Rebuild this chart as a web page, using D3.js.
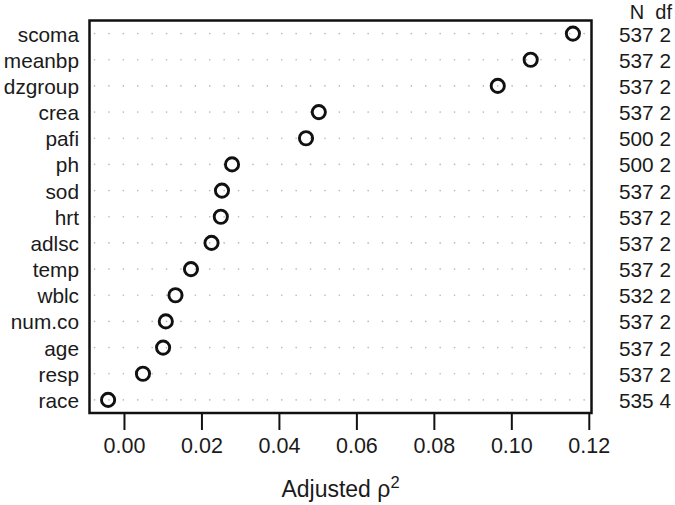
<!DOCTYPE html>
<html>
<head>
<meta charset="UTF-8" />
<title>Adjusted rho^2 dot chart</title>
<script src="https://d3js.org/d3.v7.min.js"></script>
<style>
body { margin: 0; background: #fff; }
svg text { font-family: "Liberation Sans", Arial, sans-serif; fill: #1a1a1a; }
</style>
</head>
<body>
<div id="plot"></div>
<script>
// predictors, top to bottom
var labels = ["scoma", "meanbp", "dzgroup", "crea", "pafi", "ph", "sod", "hrt",
              "adlsc", "temp", "wblc", "num.co", "age", "resp", "race"];
// adjusted rho^2
var rho2 = [0.1159, 0.1050, 0.0965, 0.0503, 0.0470, 0.0279, 0.0253, 0.0250,
            0.0226, 0.0173, 0.0133, 0.0108, 0.0101, 0.0049, -0.0041];
var nObs = [537, 537, 537, 537, 500, 500, 537, 537, 537, 537, 532, 537, 537, 537, 535];
var dfs  = [2, 2, 2, 2, 2, 2, 2, 2, 2, 2, 2, 2, 2, 2, 4];
var xTicks = [0.00, 0.02, 0.04, 0.06, 0.08, 0.10, 0.12];

var W = 675, H = 505;
var box = {left: 89.5, right: 591.5, top: 20.5, bottom: 413};
var fs = "20.8px";

var svg = d3.select("#plot").append("svg")
  .attr("width", W)
  .attr("height", H);

// R style xlim: data range plus 4% each side
var lo = d3.min(rho2), hi = d3.max(rho2), pad = (hi - lo) * 0.04;
var x = d3.scaleLinear().domain([lo - pad, hi + pad]).range([box.left, box.right]);
var y = d3.scalePoint().domain(labels).range([box.top, box.bottom]).padding(0.5);

// dotted guide lines
svg.append("g").selectAll("line")
  .data(labels).enter()
  .append("line")
  .attr("x1", box.left + 5)
  .attr("x2", box.right)
  .attr("y1", function(d) { return y(d); })
  .attr("y2", function(d) { return y(d); })
  .attr("stroke", "#b8b8b8")
  .attr("stroke-width", 1.6)
  .attr("stroke-linecap", "round")
  .attr("stroke-dasharray", "0.1 14.3");

// points
svg.append("g").selectAll("circle")
  .data(labels).enter()
  .append("circle")
  .attr("cx", function(d, i) { return x(rho2[i]); })
  .attr("cy", function(d) { return y(d); })
  .attr("r", 6.6)
  .attr("fill", "none")
  .attr("stroke", "#111")
  .attr("stroke-width", 2.9);

// frame
svg.append("rect")
  .attr("x", box.left)
  .attr("y", box.top)
  .attr("width", box.right - box.left)
  .attr("height", box.bottom - box.top)
  .attr("fill", "none")
  .attr("stroke", "#111")
  .attr("stroke-width", 2.5);

// row labels
svg.append("g").selectAll("text")
  .data(labels).enter()
  .append("text")
  .attr("x", 79)
  .attr("y", function(d) { return y(d) + 8; })
  .attr("text-anchor", "end")
  .style("font-size", fs)
  .text(function(d) { return d; });

// N and df column
svg.append("text")
  .attr("x", 672)
  .attr("y", 19)
  .attr("text-anchor", "end")
  .style("font-size", "20px")
  .text("N\u00A0\u00A0df");

svg.append("g").selectAll("text")
  .data(labels).enter()
  .append("text")
  .attr("x", 671)
  .attr("y", function(d) { return y(d) + 8; })
  .attr("text-anchor", "end")
  .style("font-size", fs)
  .text(function(d, i) { return nObs[i] + " " + dfs[i]; });

// x axis
var xAxis = d3.axisBottom(x)
  .tickValues(xTicks)
  .tickFormat(d3.format(".2f"))
  .tickSize(17)
  .tickPadding(8);

var gx = svg.append("g")
  .attr("transform", "translate(0," + box.bottom + ")")
  .call(xAxis);
gx.select(".domain").remove();
gx.selectAll(".tick line").attr("stroke", "#111").attr("stroke-width", 2);
gx.selectAll(".tick text")
  .attr("fill", "#1a1a1a")
  .style("font-size", "21.5px")
  .style("font-family", "'Liberation Sans', Arial, sans-serif");

// axis title
var title = svg.append("text")
  .attr("x", (box.left + box.right) / 2)
  .attr("y", 497)
  .attr("text-anchor", "middle")
  .style("font-size", "23px");
title.append("tspan").text("Adjusted \u03C1");
title.append("tspan").attr("dy", -9).style("font-size", "16.5px").text("2");
</script>
</body>
</html>
